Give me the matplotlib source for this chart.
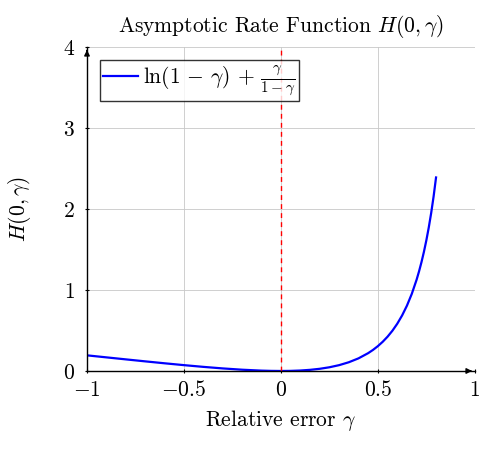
import matplotlib
matplotlib.use("Agg")
import matplotlib.pyplot as plt

plt.rcParams['font.family'] = 'serif'
plt.rcParams['font.serif'] = ['cmr10']
plt.rcParams['mathtext.fontset'] = 'cm'
plt.rcParams['axes.formatter.use_mathtext'] = True

# H(0, gamma)
gamma = [-1.0, -0.9, -0.8, -0.7, -0.6, -0.5, -0.4, -0.3, -0.2, -0.1, -0.05, 0.0,
         0.05, 0.1, 0.15, 0.2, 0.25, 0.3, 0.35, 0.4, 0.45, 0.475, 0.5, 0.525, 0.55,
         0.575, 0.6, 0.625, 0.65, 0.675, 0.7, 0.7125, 0.725, 0.7375, 0.75, 0.7625,
         0.775, 0.7875, 0.8]
H = [0.1931, 0.1682, 0.1434, 0.1189, 0.0950, 0.0721, 0.0508, 0.0316, 0.0157, 0.0044,
     0.0012, 0.0, 0.0013, 0.0057, 0.0140, 0.0269, 0.0457, 0.0719, 0.1077, 0.1558,
     0.2203, 0.2604, 0.3069, 0.3609, 0.4237, 0.4972, 0.5837, 0.6859, 0.8073, 0.9530,
     1.1294, 1.2318, 1.3454, 1.4720, 1.6137, 1.7729, 1.9528, 2.1571, 2.3906]

xticks = [-1, -0.5, 0, 0.5, 1]
yticks = [0, 1, 2, 3, 4]

fig = plt.figure(figsize=(4.86, 4.58), dpi=100)
ax = fig.add_axes([0.179, 0.190, 0.798, 0.707])

ax.plot(gamma, H, color='blue', lw=1.6,
        label=r'$\ln(1\,-\,\gamma)\,+\,\frac{\gamma}{1-\gamma}$')
ax.axvline(0, color='#ff0000', ls=(0, (3.5, 3)), lw=1.0)

ax.set_xlim(-1, 1)
ax.set_ylim(0, 4)
ax.set_xticks(xticks)
ax.set_yticks(yticks)
ax.set_xticklabels([r'$-1$', r'$-0.5$', r'$0$', r'$0.5$', r'$1$'])
ax.set_yticklabels([r'$0$', r'$1$', r'$2$', r'$3$', r'$4$'])
ax.grid(True, color='#c8c8c8', lw=0.6)
ax.set_axisbelow(True)
ax.tick_params(labelsize=15.5, length=3, width=0.8, direction='inout')
ax.tick_params(axis='x', pad=5)
ax.tick_params(axis='y', pad=7)

for s in ['top', 'right']:
    ax.spines[s].set_visible(False)
for s in ['left', 'bottom']:
    ax.spines[s].set_linewidth(1.0)
ax.annotate('', xy=(1.0, 0), xytext=(0.98, 0), xycoords='axes fraction',
            arrowprops=dict(arrowstyle='-|>', color='black', lw=1.0, mutation_scale=8))
ax.annotate('', xy=(0, 1.0), xytext=(0, 0.98), xycoords='axes fraction',
            arrowprops=dict(arrowstyle='-|>', color='black', lw=1.0, mutation_scale=8))

ax.set_xlabel(r'Relative error $\gamma$', fontsize=15.5, labelpad=6)
ax.set_ylabel(r'$H(0,\gamma)$', fontsize=15.5, labelpad=22)
ax.set_title(r'Asymptotic Rate Function $H(0,\gamma)$', fontsize=15.5, pad=11)

leg = ax.legend(loc='upper left', fontsize=15.5, frameon=True, fancybox=False,
                edgecolor='black', handlelength=1.6, handletextpad=0.25,
                borderaxespad=0.6, borderpad=0.15)
leg.get_frame().set_linewidth(1.0)

fig.savefig('out.png', dpi=100)
